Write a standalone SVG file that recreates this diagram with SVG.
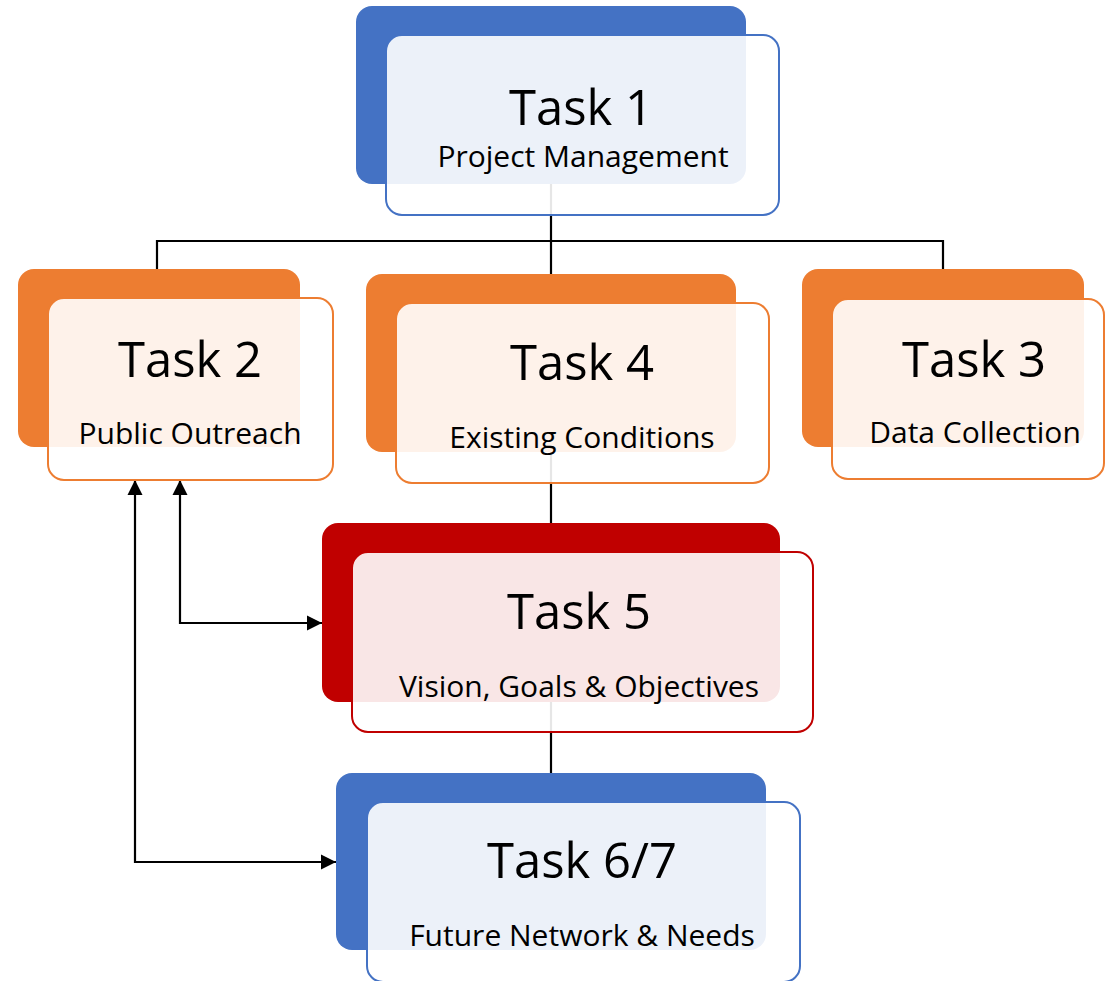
<svg xmlns="http://www.w3.org/2000/svg" width="1105" height="981" viewBox="0 0 1105 981">
<style>
.title{font-family:"Open Sans","Noto Sans","DejaVu Sans",sans-serif;font-size:49px;fill:#000;text-anchor:middle}
.sub{font-family:"Open Sans","Noto Sans","DejaVu Sans",sans-serif;font-size:30px;fill:#000;text-anchor:middle}
.front{fill:#fff;fill-opacity:0.9;stroke-width:2}
.conn{fill:none;stroke:#000;stroke-width:2.2}
.blue .back{fill:#4472C4}.blue .front{stroke:#4472C4}
.orange .back{fill:#ED7D31}.orange .front{stroke:#ED7D31}
.red .back{fill:#C00000}.red .front{stroke:#C00000}
</style>
<defs>
<marker id="ah" markerUnits="userSpaceOnUse" markerWidth="16" markerHeight="16" refX="15" refY="7.5" orient="auto-start-reverse" viewBox="0 0 16 15">
<path d="M0,0 L15,7.5 L0,15 z" fill="#000"/>
</marker>
</defs>
<rect width="1105" height="981" fill="#fff"/>
<g id="connectors">
<path class="conn" d="M551,184 V274"/>
<path class="conn" d="M157,270 V241 H943 V270"/>
<path class="conn" d="M551,452 V523"/>
<path class="conn" d="M551,702 V773"/>
<path class="conn" d="M180,480 V623 H322" marker-start="url(#ah)" marker-end="url(#ah)"/>
<path class="conn" d="M135,480 V862 H336" marker-start="url(#ah)" marker-end="url(#ah)"/>
</g>
<g id="task1" class="blue">
<rect class="back" x="356" y="6" width="390" height="178" rx="16"/>
<rect class="front" x="386" y="35" width="393" height="180" rx="16"/>
<text class="title" x="581" y="125">Task 1</text>
<text class="sub" x="583" y="167">Project Management</text>
</g>
<g id="task2" class="orange">
<rect class="back" x="18" y="269" width="282" height="178" rx="16"/>
<rect class="front" x="48" y="298" width="285" height="182" rx="16"/>
<text class="title" x="190" y="377">Task 2</text>
<text class="sub" x="190" y="444">Public Outreach</text>
</g>
<g id="task4" class="orange">
<rect class="back" x="366" y="274" width="370" height="178" rx="16"/>
<rect class="front" x="396" y="303" width="373" height="180" rx="16"/>
<text class="title" x="582" y="380">Task 4</text>
<text class="sub" x="582" y="448">Existing Conditions</text>
</g>
<g id="task3" class="orange">
<rect class="back" x="802" y="269" width="282" height="178" rx="16"/>
<rect class="front" x="832" y="299" width="272" height="180" rx="16"/>
<text class="title" x="974" y="377">Task 3</text>
<text class="sub" x="975" y="443">Data Collection</text>
</g>
<g id="task5" class="red">
<rect class="back" x="322" y="523" width="458" height="179" rx="16"/>
<rect class="front" x="352" y="552" width="461" height="180" rx="16"/>
<text class="title" x="579" y="629">Task 5</text>
<text class="sub" x="579" y="697">Vision, Goals &amp; Objectives</text>
</g>
<g id="task67" class="blue">
<rect class="back" x="336" y="773" width="430" height="177" rx="16"/>
<rect class="front" x="367" y="802" width="433" height="180" rx="16"/>
<text class="title" x="582" y="878">Task 6/7</text>
<text class="sub" x="582" y="946">Future Network &amp; Needs</text>
</g>
</svg>
